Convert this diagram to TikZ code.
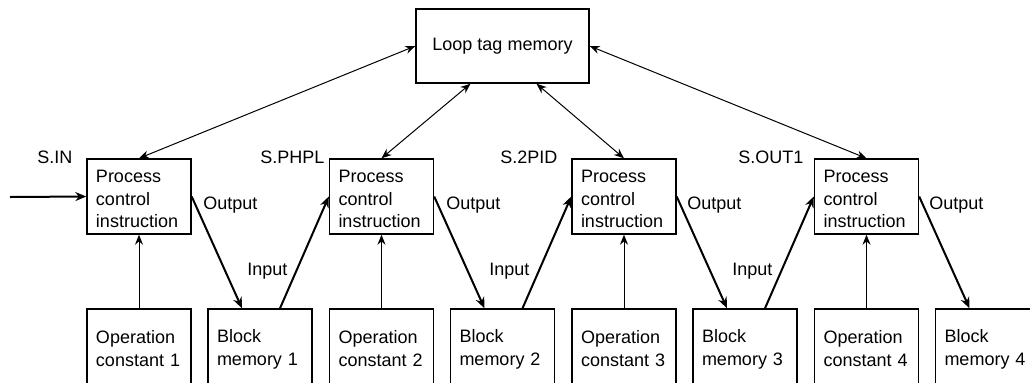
\documentclass[tikz,border=0pt]{standalone}
\usepackage{fontspec}
\setmainfont{Liberation Sans}
\usetikzlibrary{arrows.meta}

\begin{document}
\begin{tikzpicture}[x=0.5pt, y=-0.5pt,
		box/.style={draw, line width=0.7pt, minimum width=52pt, minimum height=37.5pt,
			text width=43pt, inner xsep=4.5pt, inner ysep=0pt, align=left,
			execute at begin node=\rule{0pt}{9.5pt}, execute at end node=\rule[-1pt]{0pt}{0pt},
			font=\fontsize{9}{11.25}\selectfont},
		memo/.style={draw, line width=0.7pt, minimum width=86.5pt, minimum height=37pt,
			font=\fontsize{9}{11.25}\selectfont},
		lbl/.style={inner sep=0pt, font=\fontsize{9}{11.25}\selectfont},
		feed/.style={line width=0.5pt, -{Stealth[length=5pt, width=4pt]}},
		flow/.style={line width=1pt, -{Stealth[length=5.5pt, width=4.5pt]}},
		link/.style={line width=0.5pt, {Stealth[length=5pt, width=4pt]}-{Stealth[length=5pt, width=4pt]}}]
				\useasboundingbox (0,0) rectangle (1030,382);

				% loop tag memory on top
				\node[memo] (loop) at (502.5,46) {Loop tag memory};

				% process control instructions
				\node[box] (p1) at (139,196.5) {Process\\control\\instruction};
				\node[box] (p2) at (381.5,196.5) {Process\\control\\instruction};
				\node[box] (p3) at (624,196.5) {Process\\control\\instruction};
				\node[box] (p4) at (866.5,196.5) {Process\\control\\instruction};

				\node[lbl, anchor=base west] (n1) at (37,163) {S.IN};
				\node[lbl, anchor=base west] (n2) at (260,163) {S.PHPL};
				\node[lbl, anchor=base west] (n3) at (500,163) {S.2PID};
				\node[lbl, anchor=base west] (n4) at (738,163) {S.OUT1};

				% operation constants and block memories (cut at the bottom)
				\node[box] (c1) at (139,346.5) {Operation\\constant 1};
				\node[box] (b1) at (260,346.5) {Block\\memory 1};
				\node[box] (c2) at (381.5,346.5) {Operation\\constant 2};
				\node[box] (b2) at (502.5,346.5) {Block\\memory 2};
				\node[box] (c3) at (624,346.5) {Operation\\constant 3};
				\node[box] (b3) at (745,346.5) {Block\\memory 3};
				\node[box] (c4) at (866.5,346.5) {Operation\\constant 4};
				\node[box] (b4) at (987.5,346.5) {Block\\memory 4};

				% tag memory links
				\draw[link] (p1.north) -- (loop.west);
				\draw[link] (p2.north) -- ([xshift=-16pt]loop.south);
				\draw[link] (p3.north) -- ([xshift=17pt]loop.south);
				\draw[link] (p4.north) -- (loop.east);

				% constants into the instructions
				\draw[feed] (c1) -- (p1);
				\draw[feed] (c2) -- (p2);
				\draw[feed] (c3) -- (p3);
				\draw[feed] (c4) -- (p4);

				% signal chain
				\coordinate (src) at (10,197);
				\draw[flow] (src) -- (p1.west);
				\draw[flow] (p1.east) -- ([xshift=-9pt]b1.north);
				\draw[flow] ([xshift=10pt]b1.north) -- (p2.west);
				\draw[flow] (p2.east) -- ([xshift=-9pt]b2.north);
				\draw[flow] ([xshift=10pt]b2.north) -- (p3.west);
				\draw[flow] (p3.east) -- ([xshift=-9pt]b3.north);
				\draw[flow] ([xshift=10pt]b3.north) -- (p4.west);
				\draw[flow] (p4.east) -- ([xshift=-9pt]b4.north);

				\node[lbl, anchor=base west] (o1) at (203,209) {Output};
				\node[lbl, anchor=base west] (o2) at (446,209) {Output};
				\node[lbl, anchor=base west] (o3) at (687,209) {Output};
				\node[lbl, anchor=base west] (o4) at (929,209) {Output};
				\node[lbl, anchor=base west] (i1) at (247,275) {Input};
				\node[lbl, anchor=base west] (i2) at (489,275) {Input};
				\node[lbl, anchor=base west] (i3) at (732,275) {Input};
			\end{tikzpicture}
\end{document}
